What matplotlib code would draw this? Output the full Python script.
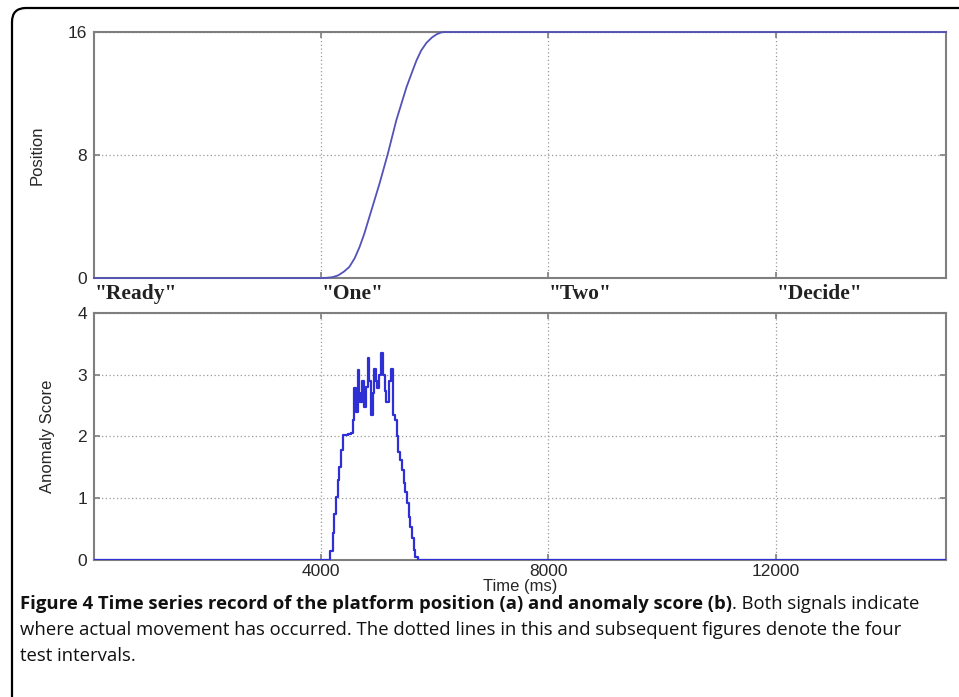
import matplotlib
matplotlib.use("Agg")
import matplotlib.pyplot as plt
from matplotlib.patches import FancyBboxPatch
from matplotlib.transforms import IdentityTransform, blended_transform_factory

# --- Daten ---
pos_time = [0, 3995, 4100, 4200, 4300, 4400, 4496, 4590, 4673, 4760, 4850,
            5027, 5174, 5322, 5500, 5600, 5677, 5760, 5853, 5950, 6030,
            6100, 6147, 15000]
pos_value = [0, 0, 0.02, 0.06, 0.18, 0.42, 0.73, 1.3, 2.0, 2.9, 4.0,
             6.15, 8.1, 10.26, 12.4, 13.4, 14.15, 14.8, 15.3, 15.65, 15.85,
             15.96, 16, 16]

score_time = [0, 4100, 4150, 4200, 4230, 4260, 4290, 4320, 4350, 4380, 4420,
              4470, 4520, 4555, 4584, 4610, 4643, 4670, 4685, 4720, 4760,
              4790, 4820, 4850, 4880, 4910, 4938, 4960, 4979, 5010, 5057,
              5090, 5115, 5145, 5190, 5234, 5262, 5300, 5330, 5360, 5390,
              5420, 5450, 5480, 5510, 5540, 5570, 5600, 5630, 5660, 5700,
              15000]
score_value = [0, 0, 0.15, 0.43, 0.75, 1.02, 1.3, 1.51, 1.78, 2.02, 2.02,
               2.04, 2.06, 2.27, 2.78, 2.4, 3.08, 2.7, 2.56, 2.9, 2.48,
               2.8, 3.27, 2.9, 2.35, 2.7, 3.1, 2.9, 2.78, 3.0, 3.35,
               3.0, 2.73, 2.56, 2.9, 3.1, 2.35, 2.27, 2.0, 1.75, 1.62,
               1.45, 1.25, 1.1, 0.92, 0.7, 0.54, 0.35, 0.16, 0.05, 0,
               0]

interval_time = [0, 4000, 8000, 12000]
interval_names = ['"Ready"', '"One"', '"Two"', '"Decide"']

x_ticks = [4000, 8000, 12000]
pos_ticks = [0, 8, 16]
score_ticks = [0, 1, 2, 3, 4]

caption_bold = "Figure 4 Time series record of the platform position (a) and anomaly score (b)"
caption_rest = ". Both signals indicate"
caption_line2 = "where actual movement has occurred. The dotted lines in this and subsequent figures denote the four"
caption_line3 = "test intervals."

# --- Stil ---
plt.rcParams["font.family"] = ["Liberation Sans", "DejaVu Sans"]
spine_col = "#7f7f7f"
text_col = "#262626"

fig = plt.figure(figsize=(9.59, 6.97), dpi=100)

# Rahmen mit runden Ecken
frame = FancyBboxPatch((12, -30), 990, 719, boxstyle="round,pad=0,rounding_size=14",
                       transform=IdentityTransform(), facecolor="none",
                       edgecolor="black", linewidth=1.6)
fig.patches.append(frame)

ax1 = fig.add_axes([0.098, 0.601, 0.8885, 0.353])
ax2 = fig.add_axes([0.098, 0.1965, 0.8885, 0.3545])


def style_axes(ax):
    for sp in ax.spines.values():
        sp.set_color(spine_col)
        sp.set_linewidth(1.5)
    ax.grid(True, linestyle=(0, (1, 2)), color="#9a9a9a", linewidth=0.9)
    ax.tick_params(direction="in", length=4, width=1.2, color=spine_col,
                   top=True, right=True, labelsize=12.5, labelcolor=text_col, pad=5)
    ax.set_xlim(0, 15000)
    ax.set_xticks(x_ticks)


# (a) Position
style_axes(ax1)
ax1.plot(pos_time, pos_value, color="#5252b8", linewidth=1.3, clip_on=False, zorder=3)
ax1.set_ylim(0, 16)
ax1.set_yticks(pos_ticks)
ax1.set_xticklabels([])
ax1.set_ylabel("Position", fontsize=12, color=text_col)
ax1.yaxis.set_label_coords(-0.058, 0.5)

trans = blended_transform_factory(ax1.transData, ax1.transAxes)
for t, name in zip(interval_time, interval_names):
    ax1.text(t + 10, -0.064, name, transform=trans, ha="left", va="center",
             fontsize=15.5, fontweight="bold", family="Liberation Serif",
             color="#222222")

# (b) Anomaly score
style_axes(ax2)
ax2.plot(score_time, score_value, color="#2f2fd6", linewidth=1.6, zorder=3,
         drawstyle="steps-post")
ax2.set_ylim(0, 4)
ax2.set_yticks(score_ticks)
ax2.tick_params(axis="x", pad=3)
ax2.set_xlabel("Time (ms)", fontsize=12, color=text_col, labelpad=0)
ax2.set_ylabel("Anomaly Score", fontsize=12, color=text_col)
ax2.yaxis.set_label_coords(-0.046, 0.5)

# Bildunterschrift
cap_font = ["Open Sans", "DejaVu Sans"]
cap_size = 13.3
y1 = 1 - 604 / 697
t1 = fig.text(20 / 959, y1, caption_bold, fontsize=cap_size, fontweight="bold",
              family=cap_font, va="center", ha="left", color="#111111")
fig.canvas.draw()
bb = t1.get_window_extent(renderer=fig.canvas.get_renderer())
fig.text(bb.x1 / fig.bbox.width, y1, caption_rest, fontsize=cap_size,
         family=cap_font, va="center", ha="left", color="#111111")
fig.text(20 / 959, 1 - 630 / 697, caption_line2, fontsize=cap_size,
         family=cap_font, va="center", ha="left", color="#111111")
fig.text(20 / 959, 1 - 656 / 697, caption_line3, fontsize=cap_size,
         family=cap_font, va="center", ha="left", color="#111111")

fig.savefig("out.png", dpi=100)
plt.close(fig)
